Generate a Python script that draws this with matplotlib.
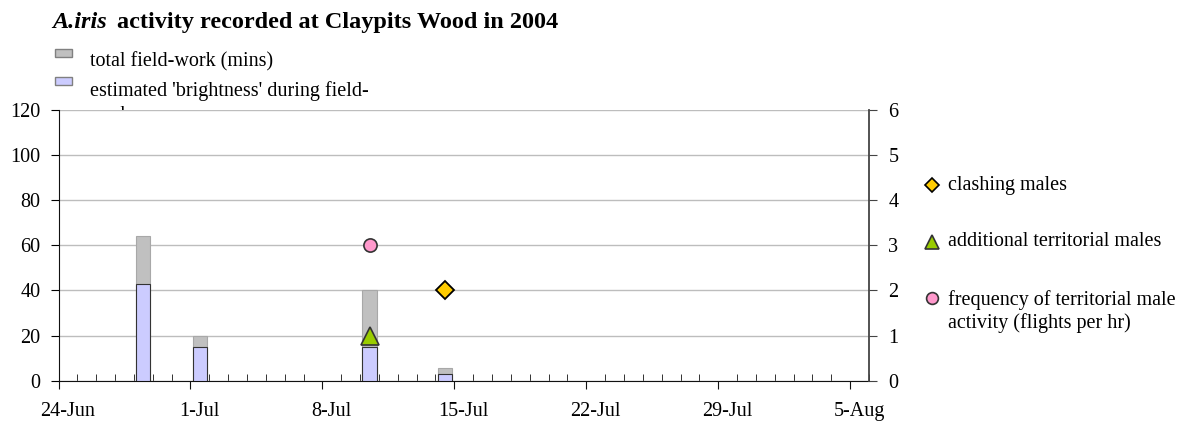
import datetime as dt
import numpy as np
import matplotlib
matplotlib.use("Agg")
import matplotlib.pyplot as plt
import matplotlib.dates as mdates
import matplotlib.transforms as mtransforms
from matplotlib.patches import Rectangle
from matplotlib.lines import Line2D

plt.rcParams['font.family'] = ['Liberation Serif', 'DejaVu Serif']

# data
bar_dates = ["2004-06-28", "2004-07-01", "2004-07-10", "2004-07-14"]
fieldwork_mins = [64, 20, 40, 5.5]
brightness = [43, 15, 15, 3]

clash_dates = ["2004-07-14"]
clashing_males = [2]
terr_dates = ["2004-07-10"]
additional_territorial = [1]
freq_dates = ["2004-07-10"]
flights_per_hr = [3]

y1_ticks = [0, 20, 40, 60, 80, 100, 120]
y2_ticks = [0, 1, 2, 3, 4, 5, 6]

W, H = 1185, 421


def px(x, y):
    # pixel position (from top left) -> figure fraction
    return x / W, 1 - y / H


def to_num(ds):
    # Excel date axis: each value sits in the middle of its day slot
    return np.array([mdates.date2num(dt.datetime.fromisoformat(d)) for d in ds]) + 0.5


fig = plt.figure(figsize=(W / 100, H / 100), dpi=100)
ax = fig.add_axes([58.5 / W, 1 - 380.7 / H, 810.5 / W, 270.7 / H])
ax2 = ax.twinx()

xb = to_num(bar_dates)
ax.bar(xb, fieldwork_mins, width=0.76, color='#c0c0c0', edgecolor='#a8a8a8', linewidth=0.8, zorder=2)
ax.bar(xb, brightness, width=0.76, color='#ccccff', edgecolor='#333333', linewidth=0.8, zorder=3)

ax2.plot(to_num(freq_dates), flights_per_hr, 'o', ms=9.5, mfc='#ff99cc', mec='#333333', mew=1.2, zorder=5)
ax2.plot(to_num(terr_dates), additional_territorial, '^', ms=13, mfc='#99cc00', mec='#333333', mew=1.2, zorder=5)
ax2.plot(to_num(clash_dates), clashing_males, 'D', ms=9, mfc='#ffcc00', mec='#000000', mew=1.3, zorder=5)

x0 = mdates.date2num(dt.datetime(2004, 6, 24))
x1 = mdates.date2num(dt.datetime(2004, 8, 6))
ax.set_xlim(x0, x1)
ax.set_ylim(0, 120)
ax2.set_ylim(0, 6)
ax.set_yticks(y1_ticks)
ax2.set_yticks(y2_ticks)

major = np.arange(x0, x1, 7)
minor = [d for d in np.arange(x0, x1 + 1) if d not in major]
ax.set_xticks(major)
ax.set_xticks(minor, minor=True)
ax.xaxis.set_major_formatter(plt.FuncFormatter(
    lambda v, p: f"{mdates.num2date(v).day}-{mdates.num2date(v).strftime('%b')}"))

ax.grid(axis='y', color='#bdbdbd', linewidth=1, zorder=0)
ax.set_axisbelow(True)
for a in (ax, ax2):
    a.spines['top'].set_visible(False)
ax.spines['right'].set_visible(False)
ax2.spines['left'].set_visible(False)
ax2.spines['bottom'].set_visible(False)
for s in ('left', 'bottom'):
    ax.spines[s].set_color('#111111')
ax2.spines['right'].set_color('#444444')
ax2.spines['right'].set_linewidth(1.3)

ax.tick_params(axis='x', which='major', direction='out', length=6, pad=9, labelsize=14.5, color='#111111')
ax.tick_params(axis='x', which='minor', direction='in', length=5, color='#111111')
ax.tick_params(axis='y', direction='out', length=6, labelsize=14.5, pad=7)
ax2.tick_params(axis='y', direction='out', length=6, labelsize=14.5, pad=8, color='#444444')

# date labels centred on their day slot, like Excel
day_px = 810.5 / 43
shift = mtransforms.ScaledTranslation(0.5 * day_px / 100, 0, fig.dpi_scale_trans)
for lab in ax.get_xticklabels():
    lab.set_transform(lab.get_transform() + shift)

# title
fig.text(*px(52, 28), 'A.iris', fontsize=17.5, fontweight='bold', style='italic', va='baseline')
fig.text(*px(117, 28), 'activity recorded at Claypits Wood in 2004', fontsize=17.5,
         fontweight='bold', va='baseline')

# bar legend (top left); its third line sits behind the plot area as in the original
fig.patches.append(Rectangle(px(55, 57), 16.5 / W, 8 / H, transform=fig.transFigure,
                             facecolor='#c0c0c0', edgecolor='#808080', lw=1, zorder=-2))
fig.patches.append(Rectangle(px(55, 84.5), 16.5 / W, 8 / H, transform=fig.transFigure,
                             facecolor='#ccccff', edgecolor='#808080', lw=1, zorder=-2))
fig.text(*px(90, 66), 'total field-work (mins)', fontsize=14.5, va='baseline', zorder=-2)
fig.text(*px(90, 120), "estimated 'brightness' during field-\nwork", fontsize=14.5,
         va='baseline', linespacing=1.33, zorder=-2)

# marker legend (right)
keys = [('D', 7, '#ffcc00', '#000000', 185), ('^', 10, '#99cc00', '#333333', 242),
        ('o', 8.5, '#ff99cc', '#333333', 298)]
for m, s, fc, ec, yk in keys:
    fig.add_artist(Line2D([932 / W], [1 - yk / H], transform=fig.transFigure, ls='',
                          marker=m, ms=s, mfc=fc, mec=ec, mew=1.2))
fig.text(*px(948, 190), 'clashing males', fontsize=14.5, va='baseline')
fig.text(*px(948, 246), 'additional territorial males', fontsize=14.5, va='baseline')
fig.text(*px(948, 305), 'frequency of territorial male', fontsize=14.5, va='baseline')
fig.text(*px(948, 328), 'activity (flights per hr)', fontsize=14.5, va='baseline')

fig.savefig('out.png', dpi=100)
